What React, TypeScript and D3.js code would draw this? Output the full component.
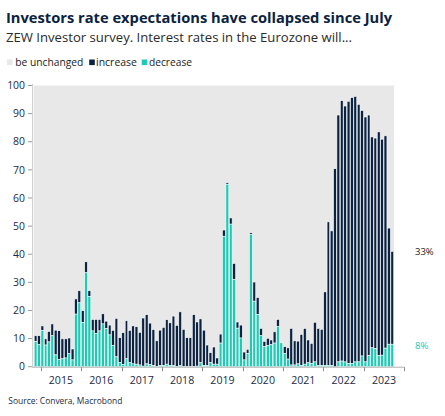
import React from "react";
import * as d3 from "d3";

// Monthly ZEW survey, Nov 2014 – Sep 2023
const firstMonth = new Date(2014, 10, 1);
const lastMonthEnd = new Date(2023, 9, 1);

const decrease: number[] = [
  8.9, 7.8, 12.8, 7.7, 8.8, 11.0, 4.2, 2.5, 2.8, 3.1, 4.6, 2.4,
  18.7, 22.7, 15.7, 33.4, 24.9, 12.7, 11.8, 12.7, 15.2, 13.5, 11.3, 7.6,
  3.5, 1.4, 0.8, 2.8, 1.4, 1.0, 0.9, 0.6, 0.2, 1.0, 0.8, 0.4,
  0.1, 0.5, 0.5, 0.9, 0.5, 0.5, 0.1, 0.5, 0.1, 0.1, 0.1, 0.1,
  0.2, 1.4, 0.5, 0.5, 1.4, 0.9, 0.9, 8.4, 46.4, 64.9, 50.7, 31.1,
  13.7, 10.2, 2.4, 4.6, 47.1, 23.3, 18.5, 11.0, 7.1, 7.5, 7.8, 8.4,
  14.2, 8.5, 4.6, 2.7, 0.6, 0.6, 1.0, 0.5, 0.9, 1.4, 1.2, 1.7,
  0.5, 0.5, 0.5, 0.5, 0.5, 0.0, 1.7, 2.0, 1.7, 1.1, 1.1, 1.7,
  1.7, 3.8, 1.7, 4.0, 6.7, 6.4, 3.9, 4.1, 6.6, 8.0, 8.0,
];

const increase: number[] = [
  2.1, 3.2, 1.7, 2.2, 3.7, 4.2, 8.8, 10.3, 7.1, 6.8, 5.6, 3.9,
  5.4, 4.3, 4.2, 3.9, 2.1, 4.1, 5.0, 4.1, 3.6, 2.7, 3.5, 5.3,
  13.7, 8.9, 11.3, 13.6, 11.5, 13.5, 13.3, 11.6, 17.1, 17.5, 14.7, 12.8,
  9.1, 12.5, 13.5, 15.8, 15.1, 17.5, 14.6, 19.0, 13.2, 10.2, 10.2, 18.4,
  15.7, 15.6, 12.5, 7.2, 3.6, 6.1, 2.2, 3.2, 2.2, 0.5, 2.2, 5.6,
  2.2, 4.6, 2.8, 1.6, 0.5, 6.8, 6.1, 2.6, 1.9, 2.6, 1.7, 4.0,
  2.6, 0.2, 2.5, 4.0, 13.0, 8.6, 8.1, 11.0, 12.7, 8.1, 7.1, 14.1,
  13.1, 12.8, 26.1, 51.0, 47.8, 70.4, 87.8, 92.6, 91.0, 93.3, 94.6, 94.4,
  91.6, 87.3, 87.1, 85.5, 75.0, 74.9, 79.6, 76.8, 75.5, 41.3, 33.0,
];

const yTicks: number[] = [0, 10, 20, 30, 40, 50, 60, 70, 80, 90, 100];
const yearLabels: number[] = [2015, 2016, 2017, 2018, 2019, 2020, 2021, 2022, 2023];
const yearTicks: number[] = [2015, 2016, 2017, 2018, 2019, 2020, 2021, 2022, 2023, 2024];
const lastIncreaseLabel = "33%";
const lastDecreaseLabel = "8%";

const C_GRAY = "#e8e8e8";
const C_NAVY = "#0b2240";
const C_TEAL = "#20c9b4";
const FONT = "'Open Sans', 'Noto Sans', sans-serif";

export default function App() {
  const months = d3.timeMonth.range(firstMonth, lastMonthEnd);
  const x = d3.scaleTime().domain([firstMonth, lastMonthEnd]).range([34, 394]);
  const y = d3.scaleLinear().domain([0, 100]).range([366.7, 85.5]);

  const rows = months.map((m, i) => ({
    m,
    dec: decrease[i],
    inc: increase[i],
  }));

  const axisY = 366.7;

  return (
    <svg
      width={445}
      height={416}
      style={{ position: "absolute", left: 0, top: 0, background: "#fff" }}
      fontFamily={FONT}
    >
      <text x={6} y={22.5} fontSize={14.6} fontWeight={700} fill={C_NAVY} textLength={386} lengthAdjust="spacingAndGlyphs">
        Investors rate expectations have collapsed since July
      </text>
      <text x={6} y={41.5} fontSize={12.6} fill="#2a2a2a" textLength={346} lengthAdjust="spacingAndGlyphs">
        ZEW Investor survey. Interest rates in the Eurozone will...
      </text>

      {/* legend */}
      <rect x={7} y={59.5} width={5.6} height={5.6} fill={C_GRAY} />
      <text x={15.3} y={65.6} fontSize={10.3} fill="#1a1a1a" textLength={68} lengthAdjust="spacingAndGlyphs">be unchanged</text>
      <rect x={89.2} y={59.5} width={5.6} height={5.6} fill={C_NAVY} />
      <text x={96} y={65.6} fontSize={10.3} fill="#1a1a1a" textLength={41} lengthAdjust="spacingAndGlyphs">increase</text>
      <rect x={141.7} y={59.5} width={5.6} height={5.6} fill={C_TEAL} />
      <text x={149} y={65.6} fontSize={10.3} fill="#1a1a1a" textLength={43} lengthAdjust="spacingAndGlyphs">decrease</text>

      {/* "be unchanged" share fills the rest of each month up to 100 */}
      <rect x={x(firstMonth)} y={y(100)} width={x(lastMonthEnd) - x(firstMonth)} height={y(0) - y(100)} fill={C_GRAY} />

      {/* bars */}
      {rows.map((r) => {
        const x0 = x(r.m);
        const x1 = x(d3.timeMonth.offset(r.m, 1));
        const w = x1 - x0;
        return (
          <g key={+r.m}>
            <rect
              x={x0 + 0.2}
              y={y(r.dec + r.inc)}
              width={w - 0.55}
              height={Math.max(0, y(r.dec) - y(r.dec + r.inc))}
              fill={C_NAVY}
              stroke="#ffffff"
              strokeWidth={0.55}
            />
            <rect
              x={x0 + 0.2}
              y={y(r.dec)}
              width={w - 0.55}
              height={Math.max(0, y(0) - y(r.dec))}
              fill={C_TEAL}
              stroke="#ffffff"
              strokeWidth={0.55}
            />
          </g>
        );
      })}

      {/* y axis */}
      <line x1={32.7} x2={32.7} y1={84} y2={axisY} stroke="#c8c8c8" strokeWidth={1} />
      {yTicks.map((t) => (
        <g key={t}>
          <line x1={28} x2={32} y1={y(t)} y2={y(t)} stroke="#9a9a9a" strokeWidth={1} />
          <text x={25} y={y(t) + 3.7} fontSize={10.4} textAnchor="end" fill="#1b2a44">
            {t}
          </text>
        </g>
      ))}

      {/* x axis */}
      <line x1={32} x2={404.5} y1={axisY + 0.5} y2={axisY + 0.5} stroke="#b0b0b0" strokeWidth={1} />
      {yearTicks.map((yr) => {
        const xx = Math.round(x(new Date(yr, 0, 1))) + 0.5;
        return <line key={yr} x1={xx} x2={xx} y1={axisY + 0.5} y2={axisY + 4.5} stroke="#8a8a8a" strokeWidth={1} />;
      })}
      {yearLabels.map((yr) => {
        const xm = (x(new Date(yr, 0, 1)) + x(new Date(yr + 1, 0, 1))) / 2;
        return (
          <text key={yr} x={xm} y={384} fontSize={10.6} textAnchor="middle" fill="#1b2a44">
            {yr}
          </text>
        );
      })}

      {/* end labels */}
      <text x={415} y={y(decrease[decrease.length - 1] + increase[increase.length - 1]) + 3.5} fontSize={9.5} fill="#1a1a1a">
        {lastIncreaseLabel}
      </text>
      <text x={415} y={y(decrease[decrease.length - 1]) + 4.5} fontSize={9.5} fill={C_TEAL}>
        {lastDecreaseLabel}
      </text>

      <text x={8.3} y={404} fontSize={9.6} fill="#1b2a44" textLength={114} lengthAdjust="spacingAndGlyphs">
        Source: Convera, Macrobond
      </text>
    </svg>
  );
}
